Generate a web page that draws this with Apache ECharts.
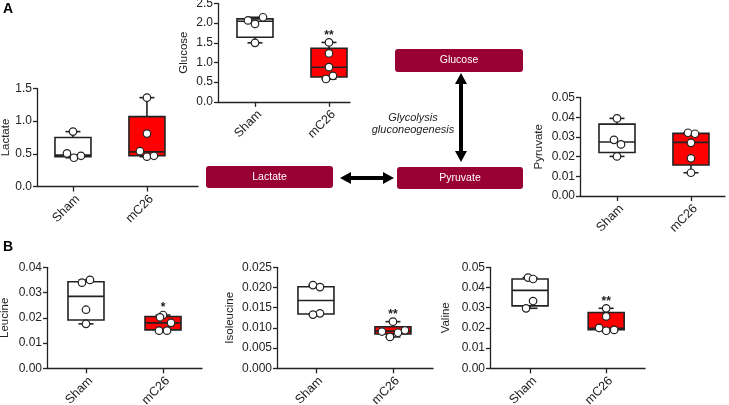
<!DOCTYPE html>
<html><head><meta charset="utf-8">
<script src="https://cdn.jsdelivr.net/npm/echarts@6/dist/echarts.min.js"></script>
<style>html,body{margin:0;padding:0;background:#fff}#c{width:729px;height:405px}</style>
</head><body><div id="c"></div>
<script>
// ---------- data ----------
const groups = ['Sham', 'mC26'];
// box stats per group: [min, q1, median, q3, max]
const glucoseBox    = [[1.50, 1.64, 2.05, 2.11, 2.15], [0.58, 0.63, 0.88, 1.36, 1.51]];
const glucoseSham   = [2.07, 2.15, 1.98, 1.50];
const glucoseMC26   = [1.51, 1.23, 0.88, 0.66, 0.58];
const lactateBox    = [[0.44, 0.456, 0.48, 0.75, 0.84], [0.456, 0.47, 0.53, 1.07, 1.36]];
const lactateSham   = [0.84, 0.507, 0.44, 0.47];
const lactateMC26   = [1.36, 0.81, 0.54, 0.456, 0.47];
const pyruvateBox   = [[0.0201, 0.0221, 0.0274, 0.0365, 0.0394], [0.0118, 0.0157, 0.0272, 0.0318, 0.0321]];
const pyruvateSham  = [0.0394, 0.0285, 0.0262, 0.0201];
const pyruvateMC26  = [0.0321, 0.0316, 0.0270, 0.0191, 0.0118];
const leucineBox    = [[0.0176, 0.0191, 0.0285, 0.0343, 0.0350], [0.0149, 0.0152, 0.0180, 0.0205, 0.0211]];
const leucineSham   = [0.0350, 0.0339, 0.0232, 0.0176];
const leucineMC26   = [0.0211, 0.0202, 0.0180, 0.0149, 0.0149];
const isoleucineBox = [[0.0133, 0.01345, 0.0168, 0.0202, 0.0206], [0.00776, 0.0085, 0.0092, 0.0103, 0.01155]];
const isoleucineSham= [0.0206, 0.0201, 0.0136, 0.0133];
const isoleucineMC26= [0.01155, 0.0091, 0.0094, 0.0088, 0.00776];
const valineBox     = [[0.0297, 0.0309, 0.0386, 0.0442, 0.0449], [0.0186, 0.0191, 0.0198, 0.0276, 0.0297]];
const valineSham    = [0.0449, 0.0442, 0.0333, 0.0297];
const valineMC26    = [0.0297, 0.0257, 0.0200, 0.0186, 0.0190];
const significance  = {Glucose: ['', '**'], Lactate: ['', ''], Pyruvate: ['', ''], Leucine: ['', '*'], Isoleucine: ['', '**'], Valine: ['', '**']};

// ---------- layout (pixels / jitter) ----------
const panels = [
  {name: 'Lactate', box: lactateBox, pts: [lactateSham, lactateMC26], jit: [[0,-6,1,8],[0,0,-7,0,7]],
   max: 1.5, interval: 0.5, dec: 1, grid: {left: 37, top: 88.5, width: 161, height: 98}, x: [0.514, 2.69], gap: 24},
  {name: 'Glucose', box: glucoseBox, pts: [glucoseSham, glucoseMC26], jit: [[-7,8,0,0],[0,0,0,4,-3]],
   max: 2.5, interval: 0.5, dec: 1, grid: {left: 218, top: 3.5, width: 132, height: 98.3}, x: [0.5, 2.284], gap: 28},
  {name: 'Pyruvate', box: pyruvateBox, pts: [pyruvateSham, pyruvateMC26], jit: [[0,-3,4,0],[-3,4,0,0,0]],
   max: 0.05, interval: 0.01, dec: 2, grid: {left: 580, top: 97.5, width: 145, height: 98.5}, x: [0.5, 2.46], gap: 35},
  {name: 'Leucine', box: leucineBox, pts: [leucineSham, leucineMC26], jit: [[4,-4,0,0],[0,-3,8,-4,4]],
   max: 0.04, interval: 0.01, dec: 2, grid: {left: 47, top: 267.3, width: 155, height: 101}, x: [0.494, 2.506], gap: 36},
  {name: 'Isoleucine', box: isoleucineBox, pts: [isoleucineSham, isoleucineMC26], jit: [[-3,4,4,-3],[0,-11,12,5,-3]],
   max: 0.025, interval: 0.005, dec: 3, grid: {left: 277, top: 267.3, width: 156, height: 101}, x: [0.494, 2.52], gap: 41},
  {name: 'Valine', box: valineBox, pts: [valineSham, valineMC26], jit: [[-2,3,3,-4],[0,0,-7,0,8]],
   max: 0.05, interval: 0.01, dec: 2, grid: {left: 490, top: 267.3, width: 155, height: 101}, x: [0.474, 2.51], gap: 38}
];

const FONT = '"Liberation Sans", Arial, sans-serif';
const INK = '#222';
const fills = ['#ffffff', '#ff0000'];

const grid = [], xAxis = [], yAxis = [], series = [];
panels.forEach((p, i) => {
  grid.push(Object.assign({outerBoundsMode: 'none', containLabel: false}, p.grid));
  xAxis.push({
    type: 'value', gridIndex: i, min: p.x[0], max: p.x[1],
    axisLine: {lineStyle: {color: INK, width: 1.3}},
    axisTick: {show: true, customValues: [1, 2], length: 5, lineStyle: {color: INK, width: 1.3}},
    axisLabel: {customValues: [1, 2], rotate: 45, margin: 6, color: INK, fontSize: 12.5, fontFamily: FONT,
      verticalAlign: 'top', hideOverlap: false,
      formatter: v => groups[Math.round(v) - 1]},
    splitLine: {show: false}
  });
  yAxis.push({
    type: 'value', gridIndex: i, min: 0, max: p.max, interval: p.interval,
    name: p.name, nameLocation: 'middle', nameGap: p.gap, nameRotate: 90,
    nameTextStyle: {color: INK, fontSize: 11.5, fontFamily: FONT},
    axisLine: {show: true, lineStyle: {color: INK, width: 1.3}},
    axisTick: {show: true, length: 4, lineStyle: {color: INK, width: 1.3}},
    axisLabel: {color: INK, fontSize: 12, fontFamily: FONT, margin: 5, formatter: v => v.toFixed(p.dec)},
    splitLine: {show: false}
  });
  const sig = significance[p.name];
  series.push({
    type: 'custom', xAxisIndex: i, yAxisIndex: i, z: 2,
    data: p.box.map((b, g) => [g + 1].concat(b)),
    renderItem: (params, api) => {
      const gx = api.value(0);
      const c = v => api.coord([gx, v]);
      const cx = c(api.value(3))[0];
      const yMin = c(api.value(1))[1], yQ1 = c(api.value(2))[1], yMed = c(api.value(3))[1],
            yQ3 = c(api.value(4))[1], yMax = c(api.value(5))[1];
      const hw = 18, cw = 7.5;
      const ls = {stroke: INK, lineWidth: 1.6};
      const ch = [
        {type: 'line', shape: {x1: cx, y1: yMax, x2: cx, y2: yQ3}, style: ls},
        {type: 'line', shape: {x1: cx, y1: yQ1, x2: cx, y2: yMin}, style: ls},
        {type: 'line', shape: {x1: cx - cw, y1: yMax, x2: cx + cw, y2: yMax}, style: ls},
        {type: 'line', shape: {x1: cx - cw, y1: yMin, x2: cx + cw, y2: yMin}, style: ls},
        {type: 'rect', shape: {x: cx - hw, y: yQ3, width: 2 * hw, height: yQ1 - yQ3},
          style: {fill: fills[params.dataIndex], stroke: INK, lineWidth: 1.6}},
        {type: 'line', shape: {x1: cx - hw, y1: yMed, x2: cx + hw, y2: yMed}, style: ls}
      ];
      const s = sig[params.dataIndex];
      if (s) ch.push({type: 'text', style: {text: s, x: cx, y: yMax - 1, align: 'center', verticalAlign: 'bottom',
        fill: INK, font: 'bold 12px ' + FONT}});
      return {type: 'group', children: ch};
    }
  });
  p.pts.forEach((arr, g) => {
    series.push({
      type: 'scatter', xAxisIndex: i, yAxisIndex: i, z: 5, symbol: 'circle', symbolSize: 7.5,
      itemStyle: {color: '#fff', borderColor: INK, borderWidth: 1.2, opacity: 1},
      data: arr.map((v, k) => ({value: [g + 1, v], symbolOffset: [p.jit[g][k], 0]}))
    });
  });
});

// ---------- pathway diagram ----------
const RED = '#990033';
function node(x, y, w, h, label) {
  return {type: 'group', children: [
    {type: 'rect', shape: {x: x, y: y, width: w, height: h, r: 3}, style: {fill: RED}},
    {type: 'text', style: {text: label, x: x + w / 2, y: y + h / 2, align: 'center', verticalAlign: 'middle',
      fill: '#fff', font: '10.5px ' + FONT}}
  ]};
}
function vArrow(x, y1, y2) {
  const hh = 11, hw = 6, sw = 2;
  return {type: 'polygon', shape: {points: [
    [x, y1], [x + hw, y1 + hh], [x + sw, y1 + hh], [x + sw, y2 - hh], [x + hw, y2 - hh], [x, y2],
    [x - hw, y2 - hh], [x - sw, y2 - hh], [x - sw, y1 + hh], [x - hw, y1 + hh]]}, style: {fill: '#000'}};
}
function hArrow(y, x1, x2) {
  const hh = 11, hw = 6, sw = 2;
  return {type: 'polygon', shape: {points: [
    [x1, y], [x1 + hh, y - hw], [x1 + hh, y - sw], [x2 - hh, y - sw], [x2 - hh, y - hw], [x2, y],
    [x2 - hh, y + hw], [x2 - hh, y + sw], [x1 + hh, y + sw], [x1 + hh, y + hw]]}, style: {fill: '#000'}};
}
const graphic = [
  node(395, 49, 128, 23, 'Glucose'),
  node(206, 166, 127, 22, 'Lactate'),
  node(397, 167, 126, 22, 'Pyruvate'),
  vArrow(461, 73, 162),
  hArrow(178, 340, 394),
  {type: 'text', style: {text: 'Glycolysis', x: 413, y: 118, align: 'center', verticalAlign: 'middle', fill: INK, font: 'italic 11px ' + FONT}},
  {type: 'text', style: {text: 'gluconeogenesis', x: 413, y: 129.5, align: 'center', verticalAlign: 'middle', fill: INK, font: 'italic 11px ' + FONT}},
  {type: 'text', style: {text: 'A', x: 3, y: 2, fill: '#000', font: 'bold 14px ' + FONT}},
  {type: 'text', style: {text: 'B', x: 3, y: 240, fill: '#000', font: 'bold 14px ' + FONT}}
];

const chart = echarts.init(document.getElementById('c'), null, {renderer: 'canvas'});
chart.setOption({animation: false, backgroundColor: '#fff', grid, xAxis, yAxis, series, graphic});
</script></body></html>
